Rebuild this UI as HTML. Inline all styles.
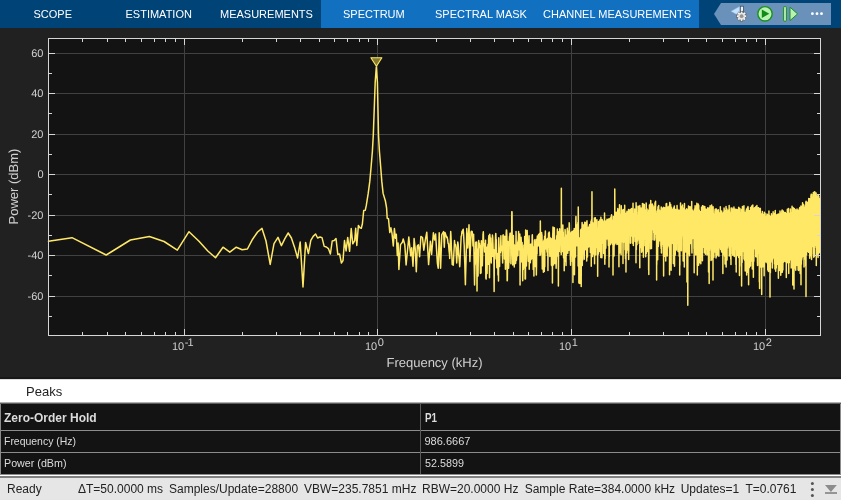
<!DOCTYPE html>
<html><head><meta charset="utf-8">
<style>
html,body{margin:0;padding:0;}
#tb,#plot,#pk,#tbl,#st{will-change:transform;}
body{width:841px;height:500px;overflow:hidden;background:#212121;font-family:"Liberation Sans",sans-serif;position:relative;}
#tb{position:absolute;left:0;top:0;width:841px;height:28px;background:#004377;}
#tb .sel{position:absolute;left:321px;top:0;width:378px;height:28px;background:#1170c0;}
#tb .t{position:absolute;top:8px;font-size:11px;color:#fff;white-space:nowrap;line-height:12px;}
#plot text{text-rendering:geometricPrecision}
#fig{position:absolute;left:0;top:28px;width:841px;height:351px;background:#212121;border-bottom:2px solid #171717;box-sizing:border-box;}
#pk{position:absolute;left:0;top:379px;width:841px;height:24px;background:#fff;border-top:1px solid #dedede;border-bottom:1px solid #b0b0b0;box-sizing:border-box;}
#pk span{position:absolute;left:26px;top:5px;font-size:13px;color:#222;line-height:14px;}
#tbl{position:absolute;left:0;top:403px;width:841px;height:72px;background:#8c8c8c;border-top:1px solid #5c5c5c;box-sizing:border-box;}
#tbl .r{position:absolute;left:1px;width:839px;background:#131313;}
#tbl .r span{position:absolute;top:4px;font-size:11px;line-height:13px;color:#dcdcdc;white-space:nowrap;transform-origin:0 50%;}
#tbl .h span{font-weight:bold;}
#tbl .c1{left:3px;} #tbl .c2{left:423.5px;}
#tbl .v{position:absolute;left:420px;top:0px;width:1px;height:70px;background:#5a5a5a;}
#st{position:absolute;left:0;top:475px;width:841px;height:25px;background:#e6e6e6;border-top:1px solid #fff;box-sizing:border-box;}
#st:before{content:'';position:absolute;left:0;top:0;width:841px;height:2px;background:#808080;}
#st span{position:absolute;top:6px;font-size:12px;color:#222;white-space:nowrap;line-height:14px;}
</style></head><body>
<div id="tb"><div class="sel"></div>
<span class="t" style="left:33.5px">SCOPE</span>
<span class="t" style="left:125.5px">ESTIMATION</span>
<span class="t" style="left:220px">MEASUREMENTS</span>
<span class="t" style="left:343px">SPECTRUM</span>
<span class="t" style="left:435px">SPECTRAL MASK</span>
<span class="t" style="left:543px">CHANNEL MEASUREMENTS</span>
<svg id="qab" style="position:absolute;left:700px;top:0" width="141" height="28" viewBox="700 0 141 28">
<polygon points="714,14 721,3 831,3 831,25 721,25" fill="#6991b9"/>
<!-- gear/arrow icon -->
<polygon points="730.8,11.3 739.8,6.3 739.8,16.3" fill="#c4e2ff" stroke="#7ea2c8" stroke-width="0.5"/>
<rect x="740.3" y="6.2" width="3.2" height="7" fill="#e8f2ff" stroke="#2c3e55" stroke-width="0.7"/>
<g transform="translate(741.6,16.2)">
<g fill="#f4f4f4" stroke="#444" stroke-width="0.5">
<rect x="-1.2" y="-5" width="2.4" height="10"/>
<rect x="-1.2" y="-5" width="2.4" height="10" transform="rotate(45)"/>
<rect x="-1.2" y="-5" width="2.4" height="10" transform="rotate(90)"/>
<rect x="-1.2" y="-5" width="2.4" height="10" transform="rotate(135)"/>
</g>
<circle r="3.5" fill="#e6e6e6"/>
<circle r="1.9" fill="#959595"/>
</g>
<!-- play -->
<circle cx="765" cy="13.8" r="7.2" fill="#b9f2b3" stroke="#18921f" stroke-width="1.4"/>
<polygon points="761.8,9.6 761.8,18 769.3,13.8" fill="#128a16"/>
<!-- step -->
<rect x="783.6" y="6.7" width="2.8" height="14.4" rx="0.6" fill="#b9f2b3" stroke="#18921f" stroke-width="1"/>
<polygon points="790,7.2 790,20.6 797.6,13.9" fill="#b9f2b3" stroke="#18921f" stroke-width="1" stroke-linejoin="round"/>
<!-- dots -->
<circle cx="812.4" cy="13.7" r="1.4" fill="#fff"/><circle cx="817" cy="13.7" r="1.4" fill="#fff"/><circle cx="821.5" cy="13.7" r="1.4" fill="#fff"/>
</svg>
</div>
<div id="fig"></div>
<svg id="plot" style="position:absolute;left:0;top:28px" width="841" height="350" viewBox="0 28 841 350" font-family="Liberation Sans, sans-serif">
<defs><clipPath id="cp"><rect x="48.5" y="38.5" width="772.0" height="297.0"/></clipPath></defs>
<rect x="48.5" y="38.5" width="772.0" height="297.0" fill="#131313"/>
<path d="M48.5 53.5H820.5M48.5 93.5H820.5M48.5 134.5H820.5M48.5 174.5H820.5M48.5 215.5H820.5M48.5 255.5H820.5M48.5 296.5H820.5M184.5 38.5V335.5M377.5 38.5V335.5M571.5 38.5V335.5M765.5 38.5V335.5" stroke="#414141" stroke-width="1" fill="none" shape-rendering="crispEdges"/>
<path d="M48.50,241.3 72.00,237.7 106.20,255.0 130.40,240.0 149.40,236.5 164.10,241.5 177.30,250.2 189.00,231.7 199.00,241.2 207.80,251.0 215.50,257.7 223.00,247.2 229.80,252.2 236.30,247.2 242.20,249.7 247.40,249.0 252.60,239.2 257.60,232.0 262.00,228.4 266.00,241.0 270.20,264.4 274.00,243.6 278.00,237.4 281.40,245.6 285.00,238.4 288.20,233.0 291.40,238.0 294.60,247.4 297.60,258.0 300.20,242.0 303.00,287.0 305.60,242.4 308.40,253.6 310.80,240.4 313.20,236.4 315.60,234.0 317.60,238.0 320.00,237.0 322.00,237.6 324.20,246.4 326.40,247.0 328.40,248.6 330.40,254.0 332.20,241.0 334.20,240.6 336.00,238.6 337.80,254.4 339.60,254.0 341.40,263.0 343.00,260.6 344.50,240.6 346.10,251.0 347.70,237.4 349.60,251.3 351.20,228.6 352.80,243.8 354.70,240.6 355.70,228.3 356.80,245.4 358.40,225.4 360.00,227.8 361.30,228.3 362.40,223.8 363.70,210.5 365.30,210.2 366.30,205.4 368.20,193.4 369.80,181.4 371.10,167.0 372.40,151.0 373.30,135.0 374.20,110.0 375.20,82.0 376.30,67.0 377.40,82.0 378.00,110.0 378.50,135.0 379.40,151.0 380.70,167.0 381.80,181.4 383.10,193.4 385.40,201.0 386.60,208.0 387.20,218.2 388.50,218.7 389.80,232.6 390.90,227.8 392.00,233.4 393.30,245.9 394.40,228.6 395.40,238.2 396.30,234.2 397.30,255.5 398.10,243.0 398.90,269.4 400.50,244.6 402.40,242.2 403.20,239.0 404.80,244.6 406.10,265.0 408.80,237.0 410.70,255.8 411.70,247.8 413.00,266.2 414.10,238.5 415.20,248.6 416.30,271.8 417.30,246.0 418.40,244.8 419.60,256.8 420.90,236.4 422.50,237.5 423.80,250.2 425.30,240.0 426.80,232.2 428.60,264.6 430.40,241.2 431.60,254.4 433.40,232.8 434.60,240.0 435.60,234.0 437.40,263.4 438.20,268.2 439.20,232.8 440.60,268.2 441.80,234.6 443.60,231.6 444.30,247.2 445.00,232.4 446.70,237.5 447.12,237.1 447.61,239.4 448.10,243.5 448.50,243.5 449.07,250.9 449.55,254.8 449.70,258.5 450.02,249.5 450.50,236.9 450.70,231.5 450.97,235.9 451.44,248.7 451.90,256.2 452.20,264.5 452.36,264.4 452.83,264.9 453.30,265.2 453.74,255.8 454.19,247.2 454.50,240.5 454.64,242.3 455.09,245.5 455.54,244.7 456.00,248.0 456.42,257.8 456.70,263.0 456.86,260.7 457.30,250.6 457.80,242.0 458.17,244.6 458.60,254.5 459.03,257.1 459.45,262.7 459.70,266.7 459.88,264.8 460.30,254.8 460.72,245.8 461.20,236.0 461.55,236.0 461.96,231.3 462.37,232.9 462.78,230.1 463.20,229.2 463.60,233.7 464.00,242.5 464.20,245.0 464.40,253.6 464.80,263.6 465.20,278.6 465.40,284.7 465.59,276.0 465.99,262.2 466.38,246.3 466.80,228.5 467.16,235.0 467.55,246.1 467.70,248.0 467.93,244.6 468.31,237.8 468.70,231.6 469.00,224.7 469.45,242.9 469.90,261.5 470.20,254.5 470.58,245.1 471.00,232.2 471.32,231.3 471.69,232.4 472.05,231.4 472.20,231.5 472.42,235.4 472.78,240.5 473.00,246.0 473.14,244.1 473.60,234.2 474.57,285.0 474.93,265.5 475.28,263.8 475.63,242.2 475.98,256.5 476.33,250.8 476.68,242.1 477.02,291.0 477.37,249.1 477.71,259.0 478.05,276.0 478.39,249.4 478.73,240.6 479.07,247.5 479.40,243.2 479.74,245.0 480.07,246.1 480.40,273.4 480.73,252.7 481.06,273.0 481.39,240.7 481.72,245.4 482.04,254.3 482.36,265.7 482.69,251.3 483.01,234.9 483.33,231.8 483.65,244.4 483.97,243.4 484.28,244.9 484.60,251.9 484.91,247.0 485.23,252.1 485.54,240.3 485.85,278.0 486.16,279.0 486.47,247.6 486.78,253.2 487.08,273.4 487.39,247.0 487.69,247.9 488.00,244.2 488.30,264.3 488.60,239.0 488.90,235.5 489.20,244.8 489.49,277.7 489.79,234.2 490.09,237.6 490.38,247.6 490.67,238.1 490.97,258.3 491.26,263.0 491.55,243.8 491.84,248.5 492.13,256.4 492.42,235.0 492.70,237.9 492.99,245.3 493.27,256.5 493.56,251.7 493.84,249.8 494.12,291.6 494.40,253.1 494.68,250.8 494.96,259.0 495.24,246.9 495.52,236.7 495.79,233.4 496.07,240.1 496.34,239.6 496.61,254.6 496.89,267.8 497.16,253.3 497.43,261.9 497.70,254.4 497.97,274.9 498.24,255.4 498.50,281.0 498.77,237.7 499.04,246.1 499.30,258.6 499.57,266.5 499.83,248.6 500.09,248.0 500.35,252.6 500.61,250.7 500.87,235.7 501.13,247.5 501.39,247.8 501.65,250.6 501.91,248.6 502.16,246.1 502.42,254.9 502.67,263.0 502.93,235.2 503.18,234.9 503.43,242.8 503.68,243.2 503.93,244.9 504.18,241.6 504.43,259.1 504.68,236.3 504.93,239.4 505.18,248.8 505.42,269.2 505.67,252.5 505.91,245.0 506.16,233.8 506.40,229.9 506.64,230.5 506.88,235.7 507.13,280.8 507.37,280.0 507.61,248.8 507.85,241.6 508.08,245.9 508.32,248.4 508.56,268.3 508.80,261.2 509.03,262.6 509.27,242.7 509.50,236.6 509.74,237.4 509.97,233.6 510.20,233.1 510.43,235.1 510.67,233.5 510.90,263.8 511.13,242.0 511.36,240.0 511.58,245.6 511.81,211.8 512.04,211.7 512.27,252.1 512.49,253.9 512.72,265.0 512.94,239.0 513.17,239.7 513.39,235.6 513.62,251.1 513.84,246.3 514.06,251.3 514.28,267.1 514.50,245.0 514.73,262.0 514.94,248.1 515.16,245.5 515.38,247.8 515.60,263.4 515.82,260.5 516.04,231.4 516.25,249.4 516.47,260.2 516.68,254.4 516.90,244.5 517.11,245.4 517.33,256.1 517.54,249.6 517.75,242.0 517.96,255.5 518.18,240.6 518.39,239.6 518.60,231.4 518.81,246.5 519.02,240.8 519.23,241.6 519.43,250.1 519.64,241.8 519.85,234.1 520.06,285.0 520.26,256.6 520.47,248.9 520.67,238.6 520.88,240.5 521.08,237.3 521.29,241.6 521.49,248.7 521.69,261.9 521.90,256.7 522.10,242.5 522.30,247.9 522.50,254.8 522.70,280.7 522.90,265.9 523.10,268.0 523.30,269.5 523.50,267.6 523.70,260.1 523.89,244.9 524.09,250.5 524.29,263.0 524.48,254.6 524.68,236.5 524.88,242.9 525.07,279.0 525.27,252.6 525.46,279.0 525.65,230.0 525.85,231.1 526.04,242.1 526.23,264.0 526.42,266.0 526.61,255.9 526.81,250.8 527.00,252.7 527.19,230.6 527.38,238.8 527.56,247.4 527.75,252.8 527.94,244.5 528.13,250.4 528.32,261.2 528.50,248.4 528.69,243.7 528.88,241.4 529.06,235.7 529.25,269.2 529.43,252.3 529.62,244.6 529.80,245.2 529.99,247.3 530.17,247.3 530.35,262.8 530.54,249.1 530.72,246.7 530.90,244.0 531.08,259.6 531.26,258.1 531.44,249.2 531.62,249.2 531.80,258.3 531.98,253.2 532.16,236.1 532.34,234.8 532.52,244.4 532.70,258.8 532.87,252.4 533.05,246.8 533.23,269.5 533.41,251.5 533.58,252.3 533.76,248.4 533.93,276.0 534.11,247.0 534.28,260.4 534.46,240.2 534.63,246.6 534.80,256.1 534.98,239.4 535.15,266.6 535.32,245.1 535.50,248.6 535.67,249.9 535.84,249.8 536.01,241.0 536.18,257.3 536.35,275.0 536.52,266.2 536.69,239.2 536.86,244.9 537.03,253.9 537.20,238.4 537.37,236.0 537.53,246.0 537.70,244.5 537.87,238.5 538.04,238.2 538.20,246.1 538.37,239.6 538.54,234.6 538.70,243.3 538.87,240.4 539.03,235.6 539.20,238.6 539.36,245.4 539.53,233.6 539.69,244.0 539.85,250.5 540.02,255.5 540.18,252.7 540.34,221.0 540.50,254.8 540.67,250.5 540.83,251.2 540.99,246.5 541.15,241.6 541.31,250.2 541.47,243.6 541.63,232.5 541.79,239.8 541.95,234.8 542.11,242.4 542.27,268.9 542.43,259.4 542.58,253.8 542.74,268.5 542.90,265.1 543.06,269.0 543.21,241.7 543.37,272.2 543.53,259.0 543.68,270.0 543.84,241.0 544.00,240.1 544.15,265.5 544.31,271.4 544.46,249.4 544.61,236.2 544.77,266.8 544.92,240.6 545.08,244.2 545.23,235.1 545.38,230.9 545.54,248.9 545.69,243.1 545.84,244.9 545.99,245.2 546.14,241.0 546.30,239.2 546.45,248.1 546.60,241.9 546.75,242.4 546.90,250.7 547.05,252.1 547.20,244.6 547.35,248.1 547.50,255.8 547.65,238.6 547.79,242.2 547.94,270.4 548.09,248.6 548.24,244.9 548.39,240.1 548.53,233.1 548.68,235.6 548.83,236.2 548.98,234.4 549.12,232.2 549.27,232.1 549.41,235.3 549.56,239.2 549.70,251.7 549.85,256.6 549.99,241.4 550.14,249.0 550.28,248.1 550.43,239.4 550.57,238.0 550.72,245.7 550.86,254.3 551.00,249.4 551.15,238.6 551.29,247.1 551.43,265.3 551.57,264.2 551.71,265.6 551.86,265.5 552.00,258.1 552.14,242.7 552.28,242.5 552.42,283.0 552.56,252.6 552.70,234.9 552.84,232.5 552.98,226.9 553.12,227.4 553.26,242.5 553.40,264.5 553.54,264.9 553.68,239.0 553.82,252.7 553.95,242.7 554.09,259.9 554.23,231.1 554.37,227.8 554.50,240.9 554.64,253.2 554.78,251.1 554.91,263.4 555.05,246.8 555.19,246.3 555.32,240.2 555.46,241.6 555.59,247.2 555.73,247.8 555.87,243.7 556.00,248.7 556.13,268.3 556.27,260.7 556.40,256.9 556.54,245.6 556.67,235.7 556.81,238.9 556.94,254.4 557.07,256.1 557.20,235.2 557.34,229.0 557.47,240.9 557.60,254.5 557.73,234.9 557.87,235.8 558.00,242.7 558.13,254.4 558.26,249.1 558.39,286.0 558.52,249.3 558.65,247.3 558.78,231.7 558.91,232.8 559.04,231.7 559.17,238.4 559.30,251.5 559.43,242.3 559.56,232.7 559.69,228.8 559.82,234.1 559.95,235.5 560.08,235.2 560.21,241.5 560.33,238.9 560.46,239.8 560.59,239.0 560.72,232.1 560.85,239.0 560.97,252.8 561.10,240.3 561.23,254.4 561.35,188.3 561.48,252.8 561.61,239.7 561.73,237.9 561.86,248.4 561.98,233.9 562.11,229.4 562.23,251.2 562.36,239.9 562.48,236.9 562.61,243.8 562.73,227.2 562.86,225.1 562.98,236.4 563.11,237.7 563.23,232.1 563.35,238.5 563.48,248.7 563.60,258.1 563.72,242.3 563.85,239.4 563.97,252.2 564.09,251.6 564.21,270.7 564.33,248.0 564.46,262.0 564.58,244.1 564.70,237.3 564.82,242.5 564.94,238.8 565.06,229.5 565.19,230.8 565.31,259.5 565.43,242.5 565.55,251.9 565.67,235.0 565.79,240.4 565.91,258.5 566.03,265.4 566.15,242.6 566.27,240.2 566.38,255.4 566.50,251.4 566.62,239.3 566.74,243.5 566.86,240.8 566.98,251.0 567.10,233.4 567.21,230.2 567.33,228.2 567.45,239.0 567.57,240.8 567.69,238.2 567.80,253.2 567.92,242.0 568.04,231.0 568.15,243.3 568.27,243.8 568.39,241.0 568.50,240.4 568.73,247.8 568.85,244.9 568.97,250.3 569.08,232.4 569.20,222.8 569.31,223.4 569.43,229.0 569.54,233.9 569.66,233.5 569.77,239.9 570.00,245.3 570.11,241.7 570.23,239.0 570.34,259.7 570.45,252.7 570.57,265.3 570.68,238.0 570.79,256.3 570.91,250.1 571.02,242.9 571.13,232.3 571.25,239.3 571.36,249.1 571.47,241.2 571.58,236.3 571.69,233.6 571.81,243.2 571.92,252.1 572.03,236.8 572.14,231.4 572.25,261.6 572.47,235.3 572.58,239.4 572.69,256.2 572.81,246.9 572.92,282.4 573.03,266.2 573.25,239.0 573.36,230.8 573.46,232.2 573.57,235.0 573.68,237.8 573.79,238.4 573.90,242.0 574.01,252.8 574.23,228.6 574.34,239.0 574.44,274.8 574.55,261.0 574.66,238.1 574.77,244.0 574.88,250.2 574.98,248.6 575.09,255.4 575.20,243.9 575.31,239.0 575.41,249.5 575.52,257.1 575.73,227.7 575.84,219.8 575.95,216.5 576.05,224.9 576.16,230.0 576.27,226.1 576.48,231.3 576.58,244.8 576.69,241.7 576.79,245.7 576.90,242.6 577.00,225.0 577.11,225.0 577.21,229.4 577.32,230.0 577.42,238.3 577.53,230.3 577.74,237.8 577.84,222.9 577.94,222.4 578.05,233.3 578.15,266.0 578.25,207.0 578.46,241.5 578.56,246.8 578.67,240.6 578.77,247.2 578.87,283.0 578.98,239.8 579.08,237.8 579.18,241.8 579.28,239.4 579.38,253.7 579.49,248.3 579.59,238.6 579.69,237.9 579.79,283.5 579.99,241.2 580.10,251.4 580.20,256.8 580.30,248.8 580.50,237.7 580.60,230.0 580.70,235.9 580.80,242.5 580.90,232.6 581.00,231.0 581.20,286.5 581.30,235.9 581.40,228.8 581.50,254.6 581.60,243.3 581.70,244.8 581.80,238.8 581.90,239.9 582.00,228.0 582.10,222.5 582.20,239.2 582.29,265.5 582.49,242.4 582.59,260.5 582.69,240.2 582.79,247.7 582.98,231.9 583.08,224.6 583.18,240.4 583.27,230.9 583.37,239.0 583.47,234.4 583.57,232.0 583.66,232.0 583.76,231.8 583.95,225.7 584.05,249.4 584.24,259.3 584.34,235.1 584.44,233.1 584.53,249.5 584.72,222.2 584.82,222.4 584.91,225.3 585.01,229.2 585.20,237.3 585.30,228.2 585.39,222.4 585.49,225.1 585.58,237.4 585.68,249.7 585.77,241.0 585.87,237.0 585.96,239.4 586.05,246.1 586.15,222.4 586.24,228.3 586.34,243.5 586.43,234.5 586.52,240.6 586.62,238.2 586.71,261.1 586.81,248.5 586.99,220.8 587.08,229.6 587.18,232.1 587.27,249.3 587.36,239.7 587.46,256.9 587.55,243.9 587.64,244.5 587.73,242.1 587.83,240.0 587.92,229.5 588.01,229.4 588.20,237.6 588.29,227.6 588.47,236.6 588.56,239.7 588.65,247.1 588.75,233.4 588.84,228.1 588.93,229.6 589.02,246.8 589.20,225.9 589.29,230.6 589.47,239.0 589.56,232.5 589.65,224.6 589.74,240.9 589.83,236.8 589.92,242.3 590.01,226.6 590.19,241.8 590.28,234.8 590.37,252.6 590.46,241.6 590.55,228.3 590.73,243.2 590.82,224.1 591.00,221.2 591.09,226.6 591.18,235.7 591.26,266.3 591.44,232.3 591.53,219.7 591.71,233.3 591.79,242.1 591.97,191.7 592.06,220.7 592.23,229.3 592.32,254.8 592.41,231.1 592.50,256.6 592.58,232.7 592.67,246.5 592.76,238.5 592.84,250.7 592.93,232.3 593.02,223.1 593.19,226.5 593.28,236.0 593.45,253.9 593.54,229.2 593.62,228.5 593.71,250.5 593.80,232.8 593.88,239.7 593.97,234.3 594.05,247.0 594.14,242.3 594.22,247.8 594.31,223.8 594.40,218.0 594.48,227.3 594.57,263.8 594.74,219.6 594.82,229.6 594.91,244.4 594.99,239.9 595.08,233.0 595.25,220.1 595.33,217.8 595.50,236.4 595.58,231.5 595.67,250.4 595.75,240.2 595.83,254.7 595.92,234.2 596.00,225.4 596.17,238.4 596.25,232.8 596.34,220.2 596.42,222.8 596.50,240.9 596.59,232.6 596.67,245.7 596.75,232.0 596.92,219.8 597.00,228.7 597.08,247.5 597.25,229.0 597.33,241.0 597.50,229.4 597.58,234.9 597.66,276.2 597.74,245.0 597.83,230.2 597.91,230.1 597.99,231.8 598.07,234.8 598.15,241.8 598.23,236.4 598.32,228.3 598.48,254.1 598.56,221.6 598.72,239.8 598.80,244.7 598.88,226.2 598.97,227.0 599.05,231.5 599.13,234.9 599.21,234.6 599.29,225.9 599.37,238.3 599.45,224.6 599.53,243.7 599.69,222.5 599.77,222.9 599.85,220.1 599.93,251.5 600.01,240.2 600.09,222.8 600.25,247.7 600.33,231.9 600.49,227.3 600.57,221.7 600.73,224.6 600.81,257.5 600.88,217.3 600.96,224.0 601.04,249.2 601.20,220.9 601.28,228.3 601.36,237.6 601.44,237.0 601.51,247.1 601.75,229.1 601.83,236.8 601.91,257.8 601.98,250.3 602.06,234.8 602.14,219.4 602.22,243.6 602.30,241.1 602.45,223.1 602.53,230.0 602.61,222.2 602.68,236.3 602.76,243.0 602.92,221.0 602.99,223.5 603.07,232.4 603.15,225.6 603.22,229.9 603.30,229.5 603.38,232.1 603.45,222.6 603.53,231.2 603.68,253.5 603.76,237.6 603.84,224.2 603.99,224.8 604.06,246.1 604.14,247.5 604.22,238.7 604.29,224.0 604.37,233.3 604.44,233.0 604.52,213.0 604.60,236.6 604.75,234.6 604.82,264.3 604.97,222.1 605.05,225.9 605.12,258.8 605.20,227.9 605.27,221.9 605.50,245.2 605.57,239.6 605.65,241.7 605.72,235.1 605.80,248.2 605.95,220.9 606.02,232.5 606.24,224.5 606.32,226.8 606.47,236.3 606.54,232.2 606.61,223.3 606.69,229.2 606.76,238.7 606.84,239.0 606.98,219.2 607.06,225.5 607.13,231.9 607.20,225.8 607.28,238.0 607.50,229.3 607.57,235.3 607.71,221.3 607.79,219.7 607.93,238.0 608.01,233.9 608.08,230.1 608.22,240.9 608.30,240.5 608.37,245.4 608.44,223.8 608.51,219.0 608.66,240.0 608.73,229.5 608.80,225.0 608.87,237.5 608.94,231.4 609.02,266.9 609.23,231.6 609.30,256.8 609.37,232.0 609.45,232.1 609.52,239.3 609.59,233.5 609.66,243.8 609.73,239.4 609.80,222.8 609.87,218.4 609.94,221.4 610.01,227.2 610.23,244.8 610.30,242.3 610.44,220.0 610.51,219.7 610.72,232.3 610.79,224.3 610.86,216.9 610.93,231.6 611.00,239.6 611.14,240.8 611.21,229.0 611.28,242.6 611.49,221.2 611.56,214.7 611.70,224.5 611.77,219.8 611.91,235.2 611.98,230.6 612.05,242.4 612.12,244.0 612.19,233.5 612.25,239.5 612.32,221.6 612.46,227.8 612.53,229.9 612.60,244.4 612.74,232.4 612.80,231.9 612.94,242.4 613.01,274.9 613.22,219.7 613.28,232.4 613.35,216.6 613.49,241.1 613.56,245.5 613.69,220.5 613.76,226.9 613.90,236.8 613.96,234.2 614.03,256.1 614.23,219.7 614.30,223.1 614.37,224.0 614.44,223.6 614.50,217.5 614.64,244.7 614.70,242.3 614.77,189.0 614.97,243.7 615.04,236.9 615.11,215.8 615.24,217.0 615.31,220.0 615.44,223.2 615.51,216.7 615.57,216.4 615.64,242.7 615.70,219.4 615.77,212.6 615.90,228.6 615.97,226.3 616.04,226.3 616.10,232.7 616.23,228.8 616.30,215.1 616.43,240.7 616.50,220.2 616.56,212.3 616.69,235.4 616.76,224.3 616.89,222.5 616.95,244.5 617.02,222.3 617.08,213.5 617.15,225.0 617.22,218.9 617.28,215.3 617.48,238.7 617.54,222.8 617.73,215.0 617.80,208.6 617.99,227.1 618.06,232.6 618.12,235.5 618.19,219.4 618.25,234.7 618.31,220.2 618.44,244.4 618.51,230.0 618.64,210.6 618.70,213.8 618.76,224.8 618.95,266.7 619.02,234.8 619.21,214.9 619.27,221.9 619.34,221.1 619.46,231.8 619.53,204.7 619.72,252.9 619.78,221.6 619.84,227.7 619.97,214.5 620.03,237.4 620.09,217.9 620.22,243.7 620.28,249.0 620.41,252.1 620.47,222.9 620.53,226.0 620.66,238.3 620.72,226.8 620.78,214.3 620.97,221.7 621.03,233.0 621.10,254.7 621.22,212.3 621.28,205.8 621.41,220.4 621.47,217.7 621.53,220.4 621.65,215.6 621.71,241.7 621.78,238.0 621.96,220.7 622.02,239.8 622.21,221.0 622.27,229.1 622.33,222.6 622.39,229.9 622.45,227.5 622.51,226.2 622.57,212.8 622.70,226.0 622.76,231.6 622.82,210.0 622.94,233.6 623.00,263.4 623.24,209.6 623.30,214.2 623.36,234.6 623.49,213.7 623.55,218.8 623.61,242.3 623.73,215.1 623.79,229.5 623.91,229.9 623.97,222.2 624.03,221.9 624.15,230.2 624.21,221.8 624.27,221.3 624.33,236.5 624.45,228.2 624.51,232.0 624.69,205.3 624.74,211.9 624.80,225.1 624.86,221.4 624.98,232.4 625.04,249.8 625.22,217.8 625.28,221.4 625.46,251.0 625.52,258.8 625.63,224.8 625.69,226.9 625.75,222.3 625.99,272.0 626.04,222.4 626.10,213.3 626.22,244.7 626.28,231.8 626.34,222.4 626.45,245.9 626.51,228.1 626.57,220.8 626.69,253.1 626.74,225.5 626.80,225.9 626.86,234.4 626.98,211.2 627.03,216.3 627.21,244.4 627.27,221.2 627.32,218.4 627.38,248.5 627.50,230.9 627.55,224.2 627.67,250.1 627.73,236.9 627.78,227.7 627.84,221.1 627.90,232.4 627.96,223.9 628.01,221.4 628.19,219.1 628.24,242.6 628.30,227.8 628.47,217.4 628.53,209.5 628.64,259.5 628.70,234.5 628.76,251.5 628.93,215.5 628.98,218.2 629.04,220.4 629.15,219.1 629.21,224.5 629.26,232.9 629.38,211.5 629.49,218.6 629.55,220.3 629.66,225.5 629.71,219.4 629.77,218.7 629.94,229.0 629.99,225.6 630.05,229.6 630.16,209.4 630.22,211.8 630.27,220.0 630.39,243.2 630.50,217.8 630.55,223.5 630.61,234.4 630.72,232.6 630.77,243.0 631.00,222.5 631.05,226.1 631.11,236.8 631.16,221.6 631.22,234.9 631.27,215.9 631.33,208.7 631.49,216.6 631.55,228.2 631.66,208.6 631.71,209.9 631.77,223.6 631.82,235.6 631.98,210.9 632.04,212.2 632.09,220.6 632.20,214.9 632.26,216.6 632.31,228.7 632.42,213.4 632.47,215.9 632.53,221.7 632.64,227.3 632.69,215.1 632.75,226.7 632.80,243.4 632.96,213.3 633.02,203.2 633.18,234.3 633.23,220.4 633.28,214.1 633.34,245.4 633.50,235.0 633.55,227.3 633.66,213.9 633.71,219.0 633.77,215.2 633.82,214.0 633.87,233.1 633.98,220.9 634.03,231.5 634.09,220.3 634.25,229.3 634.30,231.5 634.46,217.7 634.51,227.9 634.62,236.0 634.67,208.9 634.72,210.9 634.78,229.5 634.99,210.8 635.04,228.5 635.09,241.4 635.15,225.4 635.20,230.9 635.25,225.8 635.30,220.2 635.41,235.0 635.46,228.7 635.51,225.8 635.57,233.2 635.67,215.4 635.72,227.6 635.78,232.4 635.88,218.9 635.98,262.7 636.04,211.0 636.09,202.7 636.24,216.7 636.30,228.5 636.35,249.7 636.45,220.0 636.50,221.2 636.55,222.1 636.66,206.0 636.71,220.6 636.76,217.9 636.81,212.0 636.97,229.4 637.02,244.7 637.12,215.5 637.22,230.6 637.28,222.6 637.33,218.4 637.43,229.5 637.48,223.2 637.53,240.9 637.63,220.1 637.74,236.5 637.79,218.1 637.99,234.9 638.04,217.5 638.24,239.1 638.30,217.5 638.35,227.6 638.40,206.2 638.50,221.9 638.55,221.3 638.60,227.0 638.70,222.1 638.75,218.6 638.80,217.5 638.85,221.5 638.95,219.6 639.00,223.3 639.10,219.6 639.20,243.5 639.25,227.0 639.30,225.4 639.35,235.8 639.45,234.1 639.50,229.3 639.55,243.7 639.70,209.6 639.75,212.0 639.80,267.7 639.85,205.4 639.95,216.1 640.00,216.0 640.10,247.9 640.25,227.3 640.30,231.1 640.35,237.9 640.50,211.5 640.54,214.5 640.69,227.5 640.74,213.1 640.79,215.9 640.89,240.9 640.99,236.9 641.04,207.9 641.23,225.8 641.28,214.6 641.33,228.3 641.48,209.7 641.53,213.2 641.62,252.2 641.72,227.4 641.77,237.5 641.82,247.8 641.92,225.3 641.96,233.9 642.01,221.0 642.06,214.0 642.21,223.9 642.25,231.9 642.45,203.5 642.50,207.8 642.54,219.5 642.69,207.9 642.74,210.2 642.78,219.8 642.98,251.2 643.02,237.4 643.07,250.0 643.17,210.4 643.22,211.7 643.26,226.7 643.41,257.2 643.45,237.1 643.50,221.0 643.60,231.2 643.69,204.0 643.74,214.8 643.79,224.8 643.93,214.2 643.98,234.0 644.02,221.2 644.12,245.7 644.21,222.6 644.26,211.0 644.31,204.6 644.45,221.6 644.50,209.8 644.54,210.8 644.59,209.5 644.68,221.9 644.73,213.0 644.78,221.8 644.82,223.6 644.97,215.2 645.01,218.1 645.20,231.2 645.25,228.9 645.29,214.0 645.43,211.3 645.48,240.0 645.53,229.5 645.62,210.1 645.71,256.7 645.76,228.6 645.94,212.5 645.99,212.8 646.03,219.7 646.08,233.2 646.17,203.0 646.22,203.9 646.27,253.5 646.31,209.4 646.50,217.6 646.54,218.4 646.63,219.9 646.73,210.3 646.77,208.8 646.82,236.5 647.00,217.2 647.05,214.1 647.09,208.9 647.23,230.8 647.27,219.8 647.41,251.4 647.46,215.1 647.50,212.8 647.64,242.5 647.73,219.1 647.77,224.3 647.95,218.0 648.00,244.8 648.04,215.2 648.18,230.3 648.22,223.3 648.27,234.7 648.31,211.9 648.49,222.6 648.54,228.2 648.63,269.8 648.72,210.1 648.76,221.2 648.81,274.5 648.99,217.3 649.03,214.8 649.16,233.3 649.21,224.9 649.25,217.8 649.30,218.4 649.43,205.1 649.48,212.0 649.52,224.5 649.61,226.3 649.70,213.9 649.74,226.2 649.79,242.0 649.96,210.4 650.01,217.6 650.05,220.9 650.14,204.2 650.23,217.1 650.27,212.8 650.31,211.4 650.45,248.8 650.49,239.8 650.53,240.9 650.71,206.8 650.75,200.4 650.84,237.9 650.97,232.2 651.01,245.3 651.23,213.0 651.28,209.4 651.32,208.6 651.49,248.5 651.54,220.3 651.58,229.0 651.71,223.4 651.75,215.3 651.88,236.6 651.97,212.9 652.01,239.7 652.10,210.7 652.23,214.6 652.27,203.9 652.44,218.7 652.48,208.9 652.53,210.0 652.74,227.1 652.78,221.3 652.82,226.4 652.91,205.3 652.99,217.5 653.04,224.6 653.12,229.6 653.25,212.8 653.29,215.4 653.42,212.3 653.46,218.9 653.50,217.5 653.67,209.3 653.71,209.7 653.76,232.9 653.88,207.2 653.97,218.9 654.01,240.0 654.18,214.7 654.22,237.9 654.26,219.2 654.43,234.7 654.47,218.9 654.51,229.3 654.55,206.6 654.68,240.0 654.72,223.9 654.76,237.4 654.89,238.9 654.97,202.7 655.01,204.0 655.18,234.5 655.22,221.2 655.26,211.9 655.30,209.0 655.43,228.6 655.47,223.3 655.51,210.8 655.55,201.2 655.72,224.1 655.76,217.6 655.88,211.0 655.96,224.4 656.00,226.3 656.17,211.0 656.21,232.7 656.25,221.6 656.29,217.9 656.33,214.2 656.45,224.8 656.49,220.9 656.54,224.1 656.62,280.0 656.66,213.6 656.74,232.1 656.78,264.6 656.90,214.1 656.98,226.6 657.02,222.7 657.06,215.1 657.19,224.8 657.23,222.5 657.27,222.9 657.39,232.5 657.43,220.3 657.47,221.7 657.51,215.9 657.55,214.3 657.67,259.8 657.71,221.4 657.75,209.5 657.87,233.6 657.95,206.7 657.99,208.5 658.03,221.0 658.11,212.8 658.23,223.6 658.27,218.9 658.31,246.4 658.39,212.9 658.47,220.0 658.51,217.1 658.59,244.2 658.67,205.5 658.75,213.1 658.79,212.2 658.91,209.3 658.99,240.5 659.03,232.7 659.22,210.0 659.26,211.7 659.42,233.7 659.46,232.3 659.50,213.6 659.66,229.3 659.74,217.0 659.78,215.0 659.85,240.8 659.97,233.4 660.01,224.4 660.09,213.1 660.21,238.7 660.25,227.6 660.28,219.4 660.36,210.9 660.48,212.4 660.52,211.7 660.64,231.1 660.71,219.9 660.75,224.2 660.79,214.7 660.87,245.9 660.98,242.3 661.02,230.4 661.06,248.4 661.14,208.6 661.22,218.8 661.25,206.9 661.45,252.9 661.49,244.1 661.52,237.7 661.60,218.2 661.68,246.6 661.72,223.6 661.75,217.7 661.79,212.0 661.87,225.3 661.98,224.5 662.02,234.4 662.06,237.5 662.17,208.1 662.21,234.7 662.25,217.7 662.29,216.9 662.40,240.3 662.48,221.2 662.52,222.6 662.59,211.3 662.75,233.0 662.78,225.7 662.86,233.8 662.97,215.2 663.01,219.2 663.09,210.3 663.12,244.6 663.24,226.4 663.27,226.1 663.42,256.0 663.50,218.3 663.54,232.2 663.61,276.0 663.69,207.3 663.72,210.0 663.76,236.0 663.99,210.2 664.02,221.8 664.14,231.9 664.25,213.2 664.28,222.5 664.36,256.6 664.43,213.1 664.47,225.9 664.51,216.5 664.66,241.7 664.69,211.7 664.73,214.9 664.77,232.6 664.84,207.7 664.99,217.4 665.03,219.8 665.06,217.0 665.21,245.3 665.25,229.6 665.28,235.3 665.47,211.6 665.50,212.9 665.54,209.7 665.61,232.6 665.72,231.4 665.76,260.9 665.83,216.8 665.98,239.4 666.01,234.5 666.12,203.7 666.23,254.3 666.27,248.8 666.38,213.5 666.49,226.3 666.52,225.0 666.67,203.5 666.74,223.1 666.78,216.3 666.88,213.7 666.96,245.1 666.99,244.8 667.03,223.2 667.07,216.5 667.21,256.0 667.24,236.0 667.28,216.8 667.35,211.2 667.42,243.9 667.50,229.0 667.53,212.0 667.57,208.9 667.60,236.8 667.75,220.2 667.78,215.2 667.92,227.8 668.00,207.0 668.03,212.0 668.21,239.3 668.24,228.6 668.28,245.7 668.42,211.5 668.49,231.9 668.53,233.3 668.70,238.8 668.74,216.0 668.78,213.0 668.88,234.5 668.99,215.7 669.02,226.2 669.06,231.1 669.13,206.0 669.23,218.1 669.27,248.2 669.34,211.0 669.48,215.2 669.51,237.5 669.55,274.8 669.72,220.1 669.76,206.0 669.79,202.5 669.97,261.5 670.00,256.3 670.07,212.8 670.24,229.5 670.28,243.1 670.31,213.1 670.49,223.2 670.52,234.3 670.69,204.5 670.73,212.1 670.76,223.1 670.93,206.5 670.97,207.4 671.00,217.6 671.11,270.3 671.24,218.7 671.28,207.6 671.48,217.5 671.52,226.4 671.55,234.2 671.69,211.5 671.72,225.3 671.75,221.9 671.82,223.4 671.86,209.5 671.99,220.9 672.03,216.9 672.13,237.4 672.20,211.2 672.23,214.2 672.26,217.1 672.37,223.9 672.43,212.4 672.47,214.3 672.50,234.6 672.63,243.4 672.70,219.1 672.74,221.8 672.77,219.6 672.80,218.3 672.97,230.5 673.00,240.8 673.24,208.0 673.27,218.9 673.34,263.6 673.47,235.5 673.51,212.4 673.54,212.3 673.61,242.2 673.74,223.8 673.77,222.5 673.87,237.0 673.97,209.9 674.00,211.9 674.04,242.1 674.24,229.4 674.27,223.1 674.30,206.1 674.47,266.3 674.50,234.8 674.53,265.9 674.70,208.7 674.73,218.8 674.76,225.6 674.83,221.5 674.99,242.8 675.03,219.2 675.06,211.0 675.22,255.2 675.25,217.4 675.29,212.4 675.42,234.9 675.48,230.2 675.52,246.6 675.74,213.9 675.78,209.8 675.87,225.8 675.97,222.3 676.00,217.5 676.03,212.9 676.10,243.3 676.23,227.4 676.26,213.0 676.49,250.0 676.52,217.1 676.55,214.6 676.74,232.3 676.78,219.0 676.87,230.4 676.97,208.4 677.00,217.2 677.03,222.4 677.06,205.4 677.13,226.0 677.22,215.7 677.26,230.0 677.35,222.1 677.48,243.5 677.51,231.9 677.57,239.5 677.73,209.2 677.76,215.7 677.80,230.0 677.86,209.5 677.99,225.9 678.02,235.9 678.05,251.4 678.11,211.2 678.24,218.9 678.27,215.9 678.40,243.9 678.49,231.8 678.52,227.9 678.62,241.2 678.68,214.3 678.74,218.6 678.77,221.1 678.87,215.0 678.96,229.9 678.99,216.1 679.02,210.7 679.21,256.3 679.24,244.3 679.27,250.4 679.43,210.3 679.49,216.7 679.52,236.2 679.64,219.5 679.71,275.1 679.74,235.8 679.77,226.0 679.80,219.1 679.89,265.2 679.98,232.7 680.02,242.2 680.20,210.6 680.23,212.5 680.26,217.5 680.38,212.7 680.42,236.9 680.48,216.1 680.51,215.0 680.54,202.9 680.69,231.8 680.72,210.9 680.75,218.3 680.81,207.0 680.94,229.6 681.00,228.8 681.03,231.4 681.12,232.1 681.18,208.1 681.24,216.8 681.27,222.1 681.30,217.8 681.42,250.7 681.48,220.5 681.51,237.9 681.70,210.9 681.73,216.8 681.76,220.7 681.85,206.2 681.94,227.9 682.00,221.0 682.03,220.2 682.12,211.4 682.15,233.9 682.24,230.8 682.27,229.4 682.33,212.9 682.39,229.9 682.48,215.0 682.51,224.2 682.54,204.9 682.75,235.1 682.78,214.0 682.81,212.2 682.90,225.0 682.99,216.1 683.02,210.1 683.16,261.1 683.22,223.2 683.25,208.1 683.46,238.6 683.49,220.4 683.52,229.4 683.61,216.2 683.73,238.4 683.76,220.1 683.79,214.2 683.85,248.2 683.99,217.4 684.02,214.7 684.08,248.5 684.23,210.9 684.26,209.0 684.32,267.0 684.46,203.6 684.49,219.2 684.52,241.3 684.70,214.7 684.72,215.1 684.75,235.0 684.90,217.4 684.96,252.2 684.99,238.8 685.02,224.5 685.16,210.0 685.25,240.3 685.28,244.9 685.34,211.5 685.48,228.3 685.51,237.5 685.54,212.1 685.74,239.8 685.77,239.7 685.88,212.7 685.97,242.4 686.00,229.5 686.03,221.2 686.09,209.8 686.17,233.6 686.23,212.4 686.26,218.7 686.29,252.0 686.43,214.3 686.49,232.8 686.51,228.2 686.71,208.8 686.74,209.9 686.77,220.0 686.86,210.3 686.97,282.0 687.00,224.3 687.03,209.5 687.08,236.8 687.23,223.1 687.25,222.9 687.40,214.3 687.45,233.5 687.48,223.6 687.51,250.7 687.73,217.5 687.76,227.8 687.79,305.2 687.90,221.8 687.99,242.7 688.01,223.5 688.04,213.4 688.10,247.1 688.24,231.9 688.27,238.9 688.32,212.0 688.49,214.6 688.52,206.1 688.66,235.8 688.74,221.2 688.77,223.8 688.82,208.0 688.94,238.3 688.99,222.0 689.02,228.4 689.07,253.5 689.24,216.5 689.27,226.2 689.30,217.4 689.49,255.8 689.52,229.0 689.63,206.7 689.68,234.2 689.74,216.9 689.76,231.0 689.85,221.2 689.96,243.9 689.98,235.8 690.01,229.3 690.12,216.1 690.23,235.7 690.26,222.8 690.28,220.9 690.37,237.6 690.48,222.3 690.50,230.6 690.64,216.7 690.75,240.5 690.77,228.2 690.91,206.7 690.99,229.9 691.02,219.3 691.05,237.5 691.18,217.6 691.23,223.6 691.26,224.4 691.42,243.5 691.48,217.2 691.50,218.9 691.61,237.2 691.69,201.5 691.75,215.7 691.77,244.3 691.96,253.1 691.99,218.1 692.01,222.9 692.04,229.4 692.12,211.1 692.23,226.8 692.25,230.3 692.36,210.1 692.49,238.8 692.52,226.3 692.57,224.0 692.65,236.3 692.73,224.8 692.76,229.3 692.79,234.8 692.97,217.8 693.00,233.0 693.02,222.1 693.05,210.9 693.21,234.7 693.24,229.5 693.26,219.5 693.34,214.7 693.37,228.9 693.50,220.5 693.53,215.8 693.60,213.9 693.66,237.1 693.74,217.8 693.76,217.3 693.79,213.6 693.92,239.0 694.00,221.9 694.02,248.6 694.13,214.7 694.18,272.8 694.23,236.9 694.26,215.5 694.34,234.3 694.44,209.1 694.49,224.2 694.52,217.9 694.54,216.6 694.67,238.5 694.73,232.0 694.75,230.3 694.88,209.6 694.96,241.1 694.98,233.8 695.01,229.7 695.06,205.8 695.16,235.1 695.24,212.6 695.27,232.4 695.42,216.0 695.47,252.0 695.50,227.3 695.52,218.9 695.60,230.2 695.68,207.9 695.73,226.3 695.76,255.0 695.88,208.1 695.99,217.9 696.01,209.8 696.21,251.5 696.24,245.9 696.27,216.5 696.44,244.9 696.49,234.3 696.52,240.3 696.62,205.6 696.75,213.3 696.77,221.9 696.85,203.2 696.97,213.3 697.00,224.6 697.08,217.5 697.23,265.4 697.25,237.4 697.30,216.4 697.33,275.0 697.48,221.2 697.50,213.9 697.55,246.2 697.73,233.4 697.75,218.5 697.83,210.4 697.98,239.7 698.00,219.9 698.13,248.4 698.20,204.1 698.23,212.0 698.25,238.2 698.33,221.9 698.50,246.1 698.52,231.0 698.57,265.3 698.72,205.3 698.75,209.4 698.77,219.2 698.94,246.2 698.99,215.0 699.02,228.9 699.14,241.8 699.24,210.1 699.26,211.9 699.41,262.8 699.48,232.5 699.51,236.7 699.58,212.2 699.68,245.0 699.73,218.7 699.75,237.0 699.78,214.7 699.92,245.6 700.00,238.6 700.02,229.9 700.14,211.4 700.24,235.6 700.26,233.7 700.39,241.2 700.48,217.2 700.51,213.4 700.68,240.5 700.75,221.7 700.77,221.5 700.80,216.8 700.84,263.7 700.99,229.8 701.01,221.5 701.08,218.5 701.11,232.8 701.23,220.4 701.25,249.5 701.32,211.6 701.49,222.1 701.52,241.5 701.56,207.3 701.73,224.2 701.75,212.1 701.87,234.0 701.99,217.3 702.02,214.6 702.13,241.4 702.21,209.8 702.23,213.1 702.25,235.7 702.42,260.8 702.49,212.3 702.51,205.7 702.58,230.8 702.75,217.7 702.77,210.4 702.84,235.3 702.94,205.8 702.98,217.1 703.01,215.9 703.10,207.6 703.15,240.4 703.24,229.1 703.27,241.2 703.34,247.3 703.41,207.4 703.50,229.8 703.52,219.0 703.59,218.4 703.71,236.2 703.73,233.8 703.76,223.5 703.87,236.0 703.96,206.6 703.99,211.2 704.01,237.5 704.08,209.0 704.24,217.4 704.27,209.8 704.38,252.8 704.50,229.0 704.52,238.5 704.68,211.9 704.73,239.8 704.75,214.0 704.82,206.4 704.91,230.3 704.98,218.4 705.00,221.7 705.07,251.9 705.16,211.0 705.23,230.3 705.25,228.3 705.35,213.6 705.46,254.3 705.48,240.6 705.51,227.3 705.67,250.0 705.73,219.6 705.76,218.8 705.85,242.5 705.89,214.7 705.98,217.3 706.01,210.1 706.03,208.9 706.16,233.6 706.23,219.6 706.25,222.9 706.37,242.4 706.46,216.4 706.48,217.6 706.50,227.6 706.52,240.8 706.57,209.7 706.75,214.9 706.77,224.3 706.88,215.0 707.00,240.2 707.02,254.9 707.24,216.7 707.26,209.6 707.40,242.1 707.49,222.5 707.51,242.0 707.73,212.8 707.75,207.8 707.84,243.1 708.00,237.4 708.02,221.9 708.15,215.5 708.20,246.4 708.24,228.9 708.26,225.9 708.28,235.2 708.40,208.3 708.48,216.9 708.51,226.9 708.55,271.9 708.59,209.1 708.75,223.0 708.77,217.3 708.81,244.7 708.90,210.8 708.99,218.1 709.01,215.2 709.10,209.9 709.16,283.5 709.25,217.0 709.27,207.9 709.42,250.7 709.49,223.9 709.51,239.1 709.73,208.5 709.75,214.7 709.77,235.2 709.79,248.4 709.90,209.4 709.99,213.1 710.01,211.9 710.10,205.7 710.25,234.0 710.27,243.6 710.46,212.2 710.48,223.8 710.50,219.8 710.65,210.0 710.74,241.7 710.76,232.3 710.78,246.7 710.95,215.2 711.00,215.3 711.02,219.8 711.04,260.4 711.12,213.5 711.23,215.0 711.25,212.2 711.32,226.3 711.49,216.9 711.51,214.6 711.59,224.4 711.66,204.9 711.74,220.9 711.76,221.4 711.85,208.4 711.99,231.3 712.02,238.8 712.20,211.4 712.25,259.5 712.27,231.7 712.35,235.4 712.48,221.7 712.50,230.0 712.52,212.0 712.56,257.9 712.73,224.2 712.75,216.1 712.85,242.3 712.98,217.2 713.00,280.0 713.10,206.8 713.23,214.9 713.25,217.1 713.37,214.9 713.48,241.2 713.50,229.9 713.52,244.2 713.60,214.1 713.75,230.5 713.77,223.1 713.79,216.7 713.87,257.2 714.00,222.5 714.02,215.8 714.20,238.4 714.24,219.7 714.26,215.7 714.39,248.8 714.49,233.2 714.51,236.4 714.63,214.7 714.71,251.9 714.73,222.8 714.75,217.1 714.82,239.0 714.90,210.9 715.00,223.2 715.02,233.3 715.10,209.3 715.24,217.0 715.26,214.7 715.43,246.6 715.49,222.4 715.51,219.8 715.65,209.1 715.73,236.5 715.75,213.2 715.77,211.6 715.87,211.2 715.89,255.3 715.99,226.7 716.01,258.1 716.21,209.2 716.23,218.5 716.25,233.0 716.41,208.9 716.45,256.5 716.49,218.5 716.51,216.4 716.57,244.3 716.73,228.6 716.75,227.3 716.77,210.0 716.93,251.0 716.99,223.5 717.01,217.6 717.13,217.1 717.17,237.9 717.25,222.7 717.27,218.6 717.45,240.3 717.49,225.6 717.51,218.1 717.53,212.6 717.62,255.1 717.74,223.8 717.76,210.3 717.82,250.6 718.00,210.9 718.02,220.3 718.10,240.6 718.17,212.3 718.23,226.8 718.25,243.4 718.35,209.7 718.49,222.5 718.51,224.1 718.59,212.4 718.66,244.2 718.74,223.4 718.76,224.1 718.88,256.2 718.97,218.5 718.99,221.0 719.01,245.9 719.09,217.5 719.25,231.9 719.27,245.2 719.40,217.4 719.50,226.3 719.52,215.7 719.54,214.0 719.61,243.9 719.75,232.5 719.77,225.2 719.79,235.1 719.82,213.1 720.00,232.5 720.02,232.2 720.11,212.3 720.23,247.9 720.25,246.0 720.27,231.3 720.34,206.7 720.38,239.7 720.49,221.8 720.51,218.0 720.61,249.4 720.72,212.6 720.74,213.3 720.76,220.2 720.80,247.3 720.93,213.9 720.99,225.0 721.01,218.9 721.06,216.7 721.20,246.8 721.23,242.6 721.25,227.2 721.35,211.6 721.50,249.6 721.52,236.2 721.56,251.9 721.67,211.0 721.74,246.7 721.76,222.4 721.86,213.0 721.93,242.6 721.99,224.5 722.01,225.9 722.04,251.0 722.17,217.7 722.25,228.0 722.27,228.1 722.36,217.9 722.45,252.0 722.49,223.6 722.51,224.3 722.53,216.9 722.60,249.5 722.73,219.5 722.75,227.7 722.88,273.4 722.96,213.1 722.99,237.3 723.01,241.6 723.05,222.4 723.23,225.5 723.25,228.5 723.31,218.6 723.42,250.7 723.49,224.0 723.51,234.4 723.68,247.7 723.73,212.0 723.75,226.6 723.77,227.7 723.80,248.4 723.95,220.5 723.99,232.6 724.00,222.5 724.08,208.0 724.22,240.2 724.24,217.1 724.26,218.8 724.32,255.0 724.42,212.3 724.50,219.4 724.52,228.5 724.61,256.2 724.73,211.9 724.75,214.7 724.77,241.3 724.88,210.6 724.99,223.2 725.00,223.7 725.06,264.1 725.10,212.1 725.24,222.5 725.26,220.7 725.33,212.0 725.42,230.5 725.49,222.8 725.51,230.0 725.60,211.0 725.74,235.7 725.76,238.1 725.83,219.3 725.99,228.8 726.01,228.9 726.05,206.5 726.14,267.0 726.24,211.1 726.26,220.2 726.30,235.8 726.39,211.8 726.49,218.1 726.51,217.7 726.63,250.4 726.69,216.4 726.74,226.0 726.76,216.4 726.86,209.0 726.97,231.2 726.99,222.2 727.00,247.5 727.02,260.0 727.23,218.2 727.25,211.3 727.46,248.0 727.50,220.2 727.52,218.2 727.57,247.9 727.67,216.3 727.74,219.4 727.76,222.0 727.83,211.5 727.87,233.9 727.99,216.8 728.00,215.1 728.06,239.0 728.18,214.5 728.25,222.2 728.27,230.7 728.41,240.6 728.46,209.9 728.49,228.6 728.51,236.9 728.56,213.9 728.68,245.9 728.73,230.1 728.75,236.4 728.79,213.6 728.99,246.2 729.01,223.6 729.17,205.4 729.20,230.0 729.23,221.9 729.25,256.1 729.29,209.6 729.49,226.9 729.51,229.1 729.56,211.9 729.73,250.4 729.75,248.0 729.77,222.3 729.87,244.0 729.90,213.8 729.99,224.4 730.00,250.5 730.14,215.5 730.24,252.0 730.26,230.2 730.29,217.2 730.43,250.6 730.50,223.2 730.51,224.6 730.70,219.8 730.75,259.3 730.77,225.4 730.83,214.1 730.97,264.4 730.99,230.0 731.00,223.2 731.12,208.0 731.17,253.8 731.24,235.2 731.25,219.9 731.46,237.7 731.49,210.4 731.51,220.3 731.61,215.4 731.72,244.3 731.74,232.2 731.76,227.2 731.87,246.6 731.99,208.1 732.01,212.8 732.02,243.0 732.24,236.0 732.26,227.1 732.29,217.3 732.49,246.5 732.50,242.6 732.62,210.3 732.73,233.0 732.75,255.3 733.00,209.2 733.01,224.9 733.20,255.0 733.23,209.5 733.24,228.9 733.26,237.4 733.41,250.9 733.46,210.2 733.49,235.1 733.51,217.0 733.65,254.6 733.73,218.2 733.75,217.6 733.93,207.1 733.96,246.2 733.99,226.3 734.01,222.7 734.21,211.5 734.24,256.5 734.25,225.7 734.35,211.6 734.46,238.1 734.50,225.0 734.51,217.9 734.55,248.3 734.64,215.2 734.74,242.8 734.75,237.4 734.80,248.9 734.87,209.2 735.00,240.8 735.01,228.7 735.04,215.7 735.16,244.7 735.24,232.1 735.25,218.8 735.30,211.8 735.49,237.8 735.51,230.4 735.64,245.8 735.71,213.9 735.75,238.7 735.76,233.8 735.79,209.3 735.89,264.5 735.98,226.2 736.00,250.3 736.14,214.5 736.22,271.9 736.24,238.2 736.25,232.6 736.27,248.6 736.38,209.6 736.49,220.3 736.51,220.6 736.55,234.0 736.57,213.5 736.74,232.8 736.76,224.1 736.77,244.1 736.99,211.3 737.01,213.6 737.18,241.9 737.24,228.7 737.26,224.0 737.28,255.2 737.31,211.8 737.49,219.2 737.51,216.4 737.53,209.7 737.70,242.6 737.74,226.3 737.76,246.5 737.84,211.9 737.90,255.7 737.99,216.1 738.01,233.1 738.05,245.0 738.24,214.8 738.25,226.3 738.28,241.0 738.45,214.2 738.49,216.5 738.50,216.9 738.59,207.8 738.67,257.6 738.75,213.9 738.76,222.4 738.79,250.7 738.82,207.2 738.99,250.0 739.01,243.2 739.10,213.7 739.19,249.8 739.24,229.3 739.25,237.2 739.30,209.9 739.46,275.6 739.50,216.4 739.51,211.4 739.56,244.7 739.74,228.3 739.75,228.0 739.84,244.6 739.94,208.4 740.00,225.9 740.01,220.8 740.09,240.1 740.16,214.9 740.24,232.3 740.25,233.2 740.36,214.4 740.42,233.5 740.49,227.8 740.51,231.1 740.63,213.2 740.72,250.0 740.75,224.5 740.76,219.8 740.97,255.6 740.99,222.8 741.00,225.0 741.12,214.1 741.17,255.6 741.24,214.3 741.26,219.0 741.32,212.2 741.35,266.2 741.49,220.6 741.51,224.0 741.55,209.4 741.60,286.0 741.75,232.3 741.76,244.5 741.91,214.6 741.95,256.5 742.00,233.9 742.01,233.0 742.07,210.6 742.10,262.5 742.25,225.1 742.26,215.9 742.28,238.9 742.44,206.6 742.50,234.4 742.51,233.7 742.65,243.4 742.75,210.1 742.76,226.7 742.89,242.5 742.98,213.2 743.00,222.4 743.01,225.6 743.03,215.1 743.10,251.4 743.24,230.2 743.26,220.9 743.36,209.0 743.39,243.7 743.49,217.5 743.51,214.0 743.61,209.1 743.71,246.3 743.74,219.9 743.75,210.1 743.95,205.8 743.98,248.2 744.00,242.2 744.01,258.9 744.20,212.5 744.24,223.3 744.26,225.6 744.41,218.2 744.43,250.2 744.49,241.5 744.50,227.2 744.54,212.0 744.57,260.3 744.74,239.4 744.76,259.7 744.94,213.0 744.99,226.5 745.00,219.8 745.01,215.7 745.21,270.9 745.24,237.4 745.26,218.9 745.30,213.4 745.43,254.6 745.50,216.4 745.51,222.3 745.53,215.9 745.57,236.4 745.74,219.3 745.75,231.1 745.82,212.4 745.98,232.6 745.99,232.2 746.01,218.0 746.09,240.6 746.15,210.4 746.25,232.0 746.26,232.5 746.29,264.6 746.48,209.0 746.50,209.8 746.51,220.4 746.65,274.9 746.69,209.8 746.75,223.8 746.76,240.0 746.90,243.6 746.93,213.6 747.00,221.7 747.01,238.3 747.11,270.5 747.25,213.3 747.26,223.7 747.35,212.0 747.47,260.4 747.50,215.4 747.51,207.4 747.73,258.1 747.75,227.1 747.76,218.0 747.78,258.3 747.98,206.6 748.00,223.8 748.01,236.1 748.08,272.4 748.17,207.4 748.24,224.4 748.26,225.0 748.39,213.2 748.46,236.8 748.49,216.7 748.50,240.1 748.60,284.7 748.63,210.4 748.75,249.3 748.76,235.1 748.79,248.0 748.95,217.1 748.99,236.6 749.01,223.7 749.13,215.0 749.22,247.7 749.24,239.7 749.25,267.7 749.28,210.7 749.49,221.9 749.51,215.8 749.64,211.8 749.71,261.8 749.74,232.8 749.75,238.2 749.78,212.4 749.99,221.5 750.01,230.7 750.05,213.5 750.14,262.0 750.25,222.1 750.26,219.1 750.35,212.5 750.38,243.5 750.49,217.6 750.50,242.6 750.52,266.1 750.57,207.4 750.74,215.0 750.76,213.1 750.78,245.3 750.90,210.5 750.99,224.8 751.01,251.6 751.17,214.9 751.25,231.1 751.26,223.4 751.27,216.8 751.31,261.1 751.50,232.7 751.51,214.4 751.54,238.8 751.67,206.1 751.75,217.7 751.76,225.7 751.77,259.7 751.81,215.2 752.00,225.2 752.01,242.8 752.09,216.6 752.23,254.9 752.25,248.5 752.26,226.2 752.32,269.0 752.35,209.3 752.49,224.9 752.51,221.7 752.52,211.7 752.61,264.6 752.74,233.2 752.75,239.1 752.81,205.1 752.99,225.5 753.00,231.1 753.19,210.0 753.22,259.6 753.25,222.4 753.26,226.5 753.38,277.2 753.47,209.6 753.49,227.6 753.50,227.7 753.68,235.8 753.72,209.5 753.75,215.1 753.76,219.5 753.83,261.3 753.85,208.6 753.99,211.1 754.00,223.4 754.18,238.7 754.23,216.4 754.25,223.3 754.26,229.0 754.38,212.8 754.40,244.1 754.49,231.8 754.50,223.3 754.66,207.7 754.74,239.8 754.76,239.4 754.91,248.8 755.00,216.6 755.01,216.3 755.07,243.9 755.14,212.2 755.24,222.4 755.25,218.3 755.29,240.9 755.41,214.2 755.49,216.5 755.50,218.3 755.54,211.5 755.70,252.2 755.74,232.4 755.75,245.7 755.78,256.7 755.88,206.5 755.99,227.7 756.00,214.7 756.02,211.2 756.19,246.0 756.24,220.0 756.25,213.2 756.34,235.9 756.39,209.7 756.49,230.2 756.50,222.8 756.54,214.0 756.64,253.7 756.74,236.3 756.75,257.1 756.92,205.5 757.00,246.3 757.01,223.4 757.05,249.1 757.22,210.4 757.24,228.0 757.26,220.6 757.27,212.3 757.43,263.1 757.49,215.4 757.50,227.2 757.53,265.4 757.58,209.9 757.75,228.3 757.76,233.1 757.85,216.6 757.87,253.3 757.99,228.7 758.00,234.6 758.04,252.3 758.25,207.7 758.26,212.4 758.33,238.1 758.42,207.7 758.49,208.3 758.50,214.9 758.72,251.4 758.75,222.3 758.76,218.5 758.89,208.8 758.95,245.3 759.00,229.3 759.01,233.2 759.04,214.1 759.16,265.5 759.24,232.3 759.25,218.5 759.26,208.5 759.34,282.1 759.49,226.5 759.51,213.6 759.59,288.5 759.74,219.2 759.76,227.7 759.88,212.6 759.91,264.8 760.00,235.8 760.01,240.1 760.07,208.4 760.17,245.0 760.25,225.0 760.26,228.8 760.34,208.5 760.49,253.6 760.51,222.2 760.58,215.0 760.60,267.0 760.74,223.5 760.75,228.6 760.85,256.3 760.94,216.6 760.99,236.0 761.00,236.5 761.11,216.1 761.20,248.5 761.25,248.5 761.26,258.7 761.40,214.1 761.50,221.3 761.51,216.2 761.69,294.5 761.74,232.7 761.75,250.5 761.79,264.1 761.90,223.9 762.00,254.9 762.01,257.0 762.06,222.3 762.24,234.9 762.25,224.6 762.39,211.4 762.45,266.7 762.50,247.6 762.51,232.2 762.52,248.8 762.66,220.1 762.74,227.9 762.75,238.5 762.76,218.1 762.90,247.0 762.99,235.3 763.00,224.8 763.09,214.3 763.11,260.6 763.25,229.5 763.26,249.1 763.37,218.6 763.41,266.7 763.50,232.9 763.51,222.9 763.60,250.7 763.69,218.9 763.75,236.6 763.76,227.2 763.78,251.0 763.87,219.9 764.00,249.4 764.01,236.5 764.05,221.3 764.15,275.7 764.25,252.2 764.26,266.9 764.43,212.2 764.50,225.4 764.51,220.5 764.52,212.6 764.63,247.7 764.75,234.4 764.76,230.9 764.92,215.4 764.94,262.2 764.99,233.5 765.01,222.4 765.04,261.4 765.07,213.5 765.24,231.5 765.25,230.6 765.31,216.5 765.43,260.1 765.50,221.9 765.51,225.2 765.58,251.4 765.64,216.6 765.74,242.3 765.75,246.7 765.83,221.6 765.99,254.2 766.00,233.7 766.01,222.3 766.07,253.6 766.09,216.6 766.24,230.0 766.25,231.0 766.31,220.1 766.50,261.9 766.51,257.6 766.63,216.0 766.73,258.5 766.74,257.7 766.75,241.6 766.76,256.6 766.97,214.1 766.99,235.4 767.00,221.8 767.18,263.1 767.21,215.7 767.24,229.7 767.26,224.8 767.39,214.5 767.48,248.2 767.50,241.0 767.51,229.8 767.64,215.6 767.75,269.9 767.76,250.6 767.88,216.4 767.95,250.8 768.00,232.9 768.01,237.9 768.10,222.9 768.13,266.3 768.24,238.9 768.26,241.6 768.30,214.7 768.47,271.5 768.49,269.3 768.50,238.0 768.56,269.2 768.58,223.4 768.74,232.8 768.75,250.8 768.84,256.0 768.94,211.0 769.00,225.1 769.01,238.8 769.19,248.4 769.20,216.6 769.24,234.5 769.25,242.5 769.27,253.9 769.46,216.8 769.50,232.2 769.51,240.0 769.56,248.6 769.72,216.0 769.74,229.0 769.75,219.5 769.92,217.0 770.00,297.0 770.01,238.0 770.03,218.5 770.23,269.7 770.24,243.8 770.25,225.2 770.27,216.8 770.37,272.7 770.49,228.8 770.51,244.1 770.63,217.0 770.65,254.5 770.75,248.4 770.76,219.3 770.85,218.2 770.88,258.5 771.00,252.7 771.01,225.5 771.10,216.5 771.20,244.5 771.25,227.4 771.26,231.4 771.30,240.5 771.45,213.7 771.50,225.7 771.51,230.7 771.68,260.7 771.70,215.6 771.75,246.4 771.76,248.5 771.79,221.6 772.00,228.7 772.01,220.8 772.08,262.4 772.24,217.7 772.25,220.7 772.40,268.1 772.49,244.3 772.50,231.9 772.61,218.9 772.74,259.3 772.75,237.0 772.76,236.4 772.82,219.8 772.95,249.1 772.99,244.2 773.00,230.3 773.05,252.3 773.13,211.7 773.25,237.1 773.26,225.9 773.35,257.8 773.47,219.1 773.49,224.0 773.50,221.9 773.55,218.0 773.58,253.1 773.75,238.6 773.76,230.1 773.91,223.7 774.00,255.4 774.01,231.3 774.07,254.5 774.17,218.9 774.24,242.5 774.25,238.3 774.27,253.9 774.45,217.1 774.49,233.3 774.50,223.4 774.51,213.3 774.54,264.0 774.74,226.9 774.75,244.1 774.95,269.0 774.97,215.7 774.99,233.8 775.00,251.7 775.20,210.8 775.24,257.7 775.25,217.3 775.26,210.6 775.40,263.1 775.50,223.2 775.51,225.6 775.55,221.8 775.73,271.3 775.75,225.1 775.76,229.9 775.87,221.3 775.88,259.1 775.99,229.9 776.00,228.5 776.05,254.2 776.11,215.2 776.25,229.5 776.26,231.9 776.30,268.1 776.42,216.8 776.49,233.0 776.50,237.2 776.55,254.2 776.69,219.3 776.75,225.3 776.76,225.5 776.87,216.6 776.90,247.6 776.99,226.9 777.00,250.1 777.10,214.5 777.13,263.1 777.25,228.1 777.26,218.5 777.36,264.2 777.43,217.1 777.50,217.4 777.51,215.9 777.59,254.7 777.75,222.2 777.76,236.6 777.79,258.7 778.00,214.3 778.01,216.9 778.25,243.6 778.26,246.5 778.28,216.8 778.40,278.3 778.50,219.8 778.51,222.8 778.52,215.3 778.62,269.2 778.75,221.7 778.76,230.4 778.79,213.9 778.96,239.8 778.99,220.4 779.00,219.8 779.04,217.2 779.12,253.1 779.24,236.1 779.25,246.1 779.35,270.5 779.46,216.1 779.50,237.0 779.51,248.6 779.67,219.7 779.69,255.6 779.74,226.9 779.75,243.3 779.87,255.2 780.00,211.0 780.01,214.6 780.03,260.8 780.20,212.3 780.24,216.3 780.25,243.7 780.46,213.5 780.48,267.1 780.49,225.3 780.50,222.7 780.52,242.9 780.61,219.4 780.75,234.5 780.75,240.0 780.76,275.2 780.80,216.3 781.00,229.8 781.01,242.7 781.02,273.1 781.13,217.1 781.25,223.6 781.26,246.5 781.39,214.7 781.40,254.1 781.50,247.6 781.51,251.8 781.55,219.6 781.64,254.3 781.75,223.1 781.75,215.2 781.81,211.1 781.86,253.8 781.99,249.8 782.00,238.1 782.14,210.0 782.18,262.2 782.24,223.0 782.25,231.3 782.31,272.2 782.35,212.6 782.50,231.5 782.51,259.3 782.73,218.3 782.74,224.8 782.75,239.9 782.88,269.9 782.97,216.7 783.00,233.9 783.01,237.9 783.14,259.8 783.23,210.9 783.24,222.2 783.25,231.4 783.44,262.3 783.48,213.6 783.49,227.2 783.50,243.1 783.67,221.1 783.67,253.4 783.75,232.1 783.76,250.1 783.99,212.2 784.00,220.5 784.01,226.1 784.11,250.7 784.12,215.7 784.25,239.8 784.26,247.0 784.45,215.4 784.48,260.8 784.50,227.8 784.51,223.6 784.60,252.5 784.66,218.6 784.75,232.6 784.76,237.2 784.83,214.4 784.95,250.9 785.00,227.5 785.00,241.9 785.01,261.6 785.22,220.1 785.24,239.7 785.25,244.2 785.36,212.5 785.50,219.7 785.51,220.4 785.53,213.9 785.73,250.9 785.75,236.1 785.75,230.0 785.83,215.5 785.90,243.3 786.00,216.1 786.01,220.4 786.10,215.6 786.19,262.4 786.24,219.3 786.25,221.9 786.31,277.5 786.46,214.2 786.50,228.2 786.51,214.6 786.54,259.8 786.57,213.4 786.75,228.8 786.76,222.8 786.77,217.3 786.91,255.7 786.99,223.6 787.00,225.7 787.01,214.6 787.05,254.6 787.24,242.2 787.25,250.6 787.26,262.8 787.32,209.2 787.49,235.9 787.50,231.1 787.56,213.2 787.59,253.2 787.75,222.4 787.76,222.7 787.78,216.4 787.97,261.8 788.00,225.1 788.01,232.1 788.10,249.9 788.19,215.7 788.24,236.0 788.25,247.7 788.39,258.6 788.47,208.4 788.49,253.2 788.50,249.7 788.70,213.4 788.75,273.6 788.75,224.1 788.86,245.4 788.97,214.8 789.00,230.4 789.01,219.7 789.08,254.4 789.18,215.8 789.24,228.3 789.25,246.7 789.28,262.7 789.47,217.2 789.50,219.9 789.50,227.2 789.61,213.6 789.74,251.4 789.75,229.5 789.76,232.7 789.83,255.4 789.90,213.6 790.00,229.1 790.01,216.0 790.14,259.7 790.25,240.3 790.26,224.5 790.32,254.1 790.41,209.0 790.50,217.1 790.51,218.8 790.58,250.2 790.74,213.4 790.75,223.8 790.75,229.9 790.80,249.2 790.88,213.2 790.99,214.5 791.00,220.4 791.04,212.8 791.19,268.0 791.25,228.7 791.26,220.4 791.27,264.4 791.44,217.2 791.50,235.4 791.50,255.4 791.62,218.9 791.70,257.0 791.75,222.1 791.76,232.1 791.77,216.4 791.86,246.4 791.99,231.2 792.00,218.5 792.07,206.2 792.19,253.1 792.25,224.5 792.25,231.6 792.28,267.2 792.37,216.6 792.50,236.1 792.51,232.2 792.51,255.0 792.71,212.4 792.75,227.0 792.76,235.4 792.77,284.9 792.93,213.4 793.00,272.5 793.01,224.6 793.02,247.1 793.22,207.7 793.25,226.5 793.26,219.8 793.26,216.2 793.38,264.4 793.50,223.9 793.50,224.7 793.62,214.4 793.64,245.0 793.74,219.1 793.75,232.7 793.82,217.3 794.00,289.0 794.01,215.5 794.04,251.2 794.11,213.9 794.25,242.9 794.25,222.5 794.29,208.6 794.45,268.1 794.50,223.7 794.51,242.5 794.59,209.5 794.60,254.3 794.74,230.3 794.75,223.1 794.78,254.1 794.83,211.2 795.00,224.2 795.00,232.9 795.05,259.0 795.15,209.6 795.25,210.7 795.26,213.8 795.29,212.8 795.43,253.1 795.50,228.9 795.51,219.3 795.71,270.2 795.74,213.2 795.75,221.2 795.76,218.1 795.84,212.6 795.86,260.9 796.00,234.3 796.00,227.6 796.21,212.7 796.23,247.0 796.25,222.0 796.25,223.0 796.26,251.3 796.45,210.2 796.49,219.3 796.50,231.7 796.52,210.1 796.55,256.6 796.75,221.8 796.75,225.5 796.91,212.0 796.97,250.4 796.99,235.0 797.00,228.5 797.02,209.0 797.13,265.5 797.25,233.5 797.25,237.8 797.26,243.9 797.43,210.0 797.50,212.8 797.51,216.2 797.65,248.6 797.74,225.0 797.75,228.4 797.80,265.7 797.87,211.1 797.99,211.5 798.00,214.5 798.05,210.9 798.11,269.9 798.24,224.0 798.25,220.3 798.44,268.7 798.47,214.6 798.49,218.5 798.50,244.1 798.52,210.5 798.58,270.5 798.75,261.8 798.76,221.9 798.76,215.0 798.85,260.1 799.00,218.2 799.00,249.2 799.09,211.4 799.24,228.6 799.25,222.7 799.33,208.7 799.50,243.8 799.50,220.8 799.70,269.4 799.72,210.0 799.74,222.6 799.75,223.2 799.78,207.4 799.93,252.3 800.00,225.4 800.00,237.7 800.19,273.4 800.20,209.2 800.25,225.7 800.25,240.3 800.38,211.9 800.41,264.6 800.50,221.9 800.51,217.1 800.55,207.4 800.60,247.7 800.75,213.8 800.76,218.7 800.92,206.0 801.00,284.7 801.00,227.5 801.17,252.2 801.23,209.9 801.25,215.6 801.25,221.9 801.36,264.3 801.38,208.8 801.49,238.6 801.50,227.5 801.56,209.8 801.72,260.1 801.75,216.9 801.76,244.4 801.91,254.8 801.96,209.0 801.99,232.0 802.00,217.5 802.11,258.0 802.23,206.2 802.25,233.5 802.25,221.8 802.32,246.7 802.46,210.9 802.50,214.8 802.51,212.6 802.57,202.8 802.64,250.1 802.74,230.5 802.75,221.9 802.84,216.2 802.89,251.9 802.99,233.5 803.00,226.8 803.12,251.1 803.20,210.6 803.24,219.4 803.25,212.3 803.37,256.2 803.46,205.1 803.49,242.3 803.50,230.5 803.54,204.5 803.73,248.9 803.75,224.2 803.76,210.2 803.98,251.4 804.00,208.6 804.00,212.7 804.05,267.0 804.21,209.0 804.24,217.0 804.25,211.2 804.41,253.1 804.50,225.6 804.50,216.3 804.62,259.1 804.67,209.5 804.75,221.4 804.76,211.5 804.77,258.8 804.94,207.0 804.99,233.0 805.00,225.3 805.08,250.0 805.15,206.9 805.24,218.7 805.25,215.3 805.40,205.2 805.46,254.5 805.49,216.7 805.50,214.3 805.55,210.0 805.72,236.1 805.74,221.4 805.75,215.7 805.77,266.3 805.83,201.9 805.99,243.2 806.00,296.4 806.08,201.2 806.25,231.4 806.26,207.5 806.33,201.9 806.43,243.4 806.50,234.4 806.50,224.8 806.54,254.7 806.71,203.4 806.75,231.0 806.76,226.9 806.78,204.1 806.85,242.2 806.99,224.3 807.00,230.0 807.06,251.4 807.23,207.7 807.25,227.4 807.25,221.5 807.33,244.3 807.38,208.3 807.50,225.1 807.50,214.2 807.54,248.7 807.64,202.2 807.75,210.2 807.75,214.0 807.78,208.5 807.99,240.8 808.00,211.0 808.00,209.0 808.09,247.1 808.13,203.8 808.25,222.9 808.25,229.5 808.28,204.2 808.45,252.2 808.49,210.9 808.50,212.3 808.70,241.3 808.74,198.5 808.75,201.4 808.76,214.1 808.89,203.3 808.96,243.3 809.00,217.3 809.00,225.9 809.02,239.7 809.14,204.4 809.25,217.4 809.25,221.6 809.26,249.8 809.47,201.6 809.49,234.9 809.50,230.9 809.63,198.8 809.71,258.3 809.74,237.7 809.75,225.8 809.82,240.0 809.94,205.4 810.00,216.3 810.00,226.2 810.03,203.3 810.16,242.2 810.24,215.9 810.25,209.1 810.28,200.7 810.37,255.8 810.49,228.3 810.50,216.5 810.53,203.8 810.61,234.8 810.75,221.1 810.75,223.2 810.89,247.0 810.90,195.7 811.00,229.1 811.00,220.1 811.02,254.0 811.16,194.3 811.25,216.7 811.26,204.6 811.31,200.2 811.38,240.3 811.49,224.0 811.50,217.5 811.56,259.6 811.75,199.4 811.75,194.4 811.82,236.3 812.00,203.9 812.00,209.9 812.11,237.0 812.13,203.5 812.25,219.0 812.25,213.5 812.33,201.0 812.38,235.8 812.50,205.2 812.50,211.9 812.59,239.2 812.62,197.4 812.75,211.6 812.75,212.5 812.85,201.7 812.96,246.7 812.99,209.0 813.00,198.4 813.13,196.9 813.17,245.1 813.25,217.2 813.25,207.0 813.34,192.6 813.45,254.3 813.49,233.7 813.50,235.7 813.72,198.4 813.73,257.2 813.75,198.5 813.75,207.5 813.77,229.8 813.92,193.6 814.00,222.1 814.00,209.8 814.14,192.2 814.24,256.4 814.25,227.3 814.25,209.3 814.33,198.6 814.46,238.7 814.50,205.3 814.50,208.2 814.58,247.5 814.61,191.8 814.75,228.1 814.75,219.4 814.77,245.7 814.95,191.9 815.00,224.7 815.00,213.0 815.06,235.7 815.24,195.7 815.25,209.4 815.26,203.5 815.41,239.5 815.48,195.1 815.50,208.2 815.50,204.7 815.60,193.6 815.69,238.0 815.75,218.2 815.75,236.7 815.78,244.7 815.90,197.9 816.00,205.0 816.01,201.4 816.14,193.0 816.16,241.2 816.24,215.1 816.25,211.3 816.30,265.4 816.45,199.4 816.49,212.4 816.50,215.8 816.67,224.1 816.68,196.0 816.75,207.5 816.76,224.6 816.91,198.3 816.93,247.7 817.00,223.3 817.00,208.1 817.06,254.6 817.17,195.9 817.25,217.3 817.25,232.6 817.37,196.3 817.46,234.5 817.50,208.6 817.51,223.3 817.53,200.8 817.73,237.5 817.75,217.4 817.75,219.8 817.94,232.2 817.97,196.0 818.00,228.0 818.00,209.9 818.02,196.2 818.08,257.6 818.25,201.8 818.25,207.5 818.29,195.1 818.42,253.8 818.50,219.4 818.50,211.0 818.59,199.7 818.62,242.6 818.75,205.7 818.75,204.6 818.77,249.7 818.82,196.3 819.00,229.9 819.00,213.5 819.01,198.5 819.11,245.7 819.24,208.7 819.25,210.8 819.33,252.7 819.36,199.5 819.50,215.3 819.50,211.7 819.60,249.4 819.73,198.7 819.75,217.6 819.76,217.9 819.94,245.1 819.97,199.5 820.00,216.2 820.00,208.8 820.01,207.2" fill="none" stroke="#ffe866" stroke-width="1.5" stroke-linejoin="round" stroke-linecap="round"/><polygon points="370.9,57.7 381.9,57.7 376.4,66.3" fill="#857a30" stroke="#ffe866" stroke-width="1.1" stroke-linejoin="round"/>
<path d="M48.5 316.5h3.5M820.5 316.5h-3.5M48.5 296.5h6.5M820.5 296.5h-6.5M48.5 275.5h3.5M820.5 275.5h-3.5M48.5 255.5h6.5M820.5 255.5h-6.5M48.5 235.5h3.5M820.5 235.5h-3.5M48.5 215.5h6.5M820.5 215.5h-6.5M48.5 194.5h3.5M820.5 194.5h-3.5M48.5 174.5h6.5M820.5 174.5h-6.5M48.5 154.5h3.5M820.5 154.5h-3.5M48.5 134.5h6.5M820.5 134.5h-6.5M48.5 113.5h3.5M820.5 113.5h-3.5M48.5 93.5h6.5M820.5 93.5h-6.5M48.5 73.5h3.5M820.5 73.5h-3.5M48.5 53.5h6.5M820.5 53.5h-6.5M82.5 38.5v3.5M82.5 335.5v-3.5M107.5 38.5v3.5M107.5 335.5v-3.5M125.5 38.5v3.5M125.5 335.5v-3.5M141.5 38.5v3.5M141.5 335.5v-3.5M154.5 38.5v3.5M154.5 335.5v-3.5M165.5 38.5v3.5M165.5 335.5v-3.5M175.5 38.5v3.5M175.5 335.5v-3.5M184.5 38.5v6.5M184.5 335.5v-6.5M242.5 38.5v3.5M242.5 335.5v-3.5M276.5 38.5v3.5M276.5 335.5v-3.5M300.5 38.5v3.5M300.5 335.5v-3.5M319.5 38.5v3.5M319.5 335.5v-3.5M334.5 38.5v3.5M334.5 335.5v-3.5M347.5 38.5v3.5M347.5 335.5v-3.5M359.5 38.5v3.5M359.5 335.5v-3.5M368.5 38.5v3.5M368.5 335.5v-3.5M377.5 38.5v6.5M377.5 335.5v-6.5M436.5 38.5v3.5M436.5 335.5v-3.5M470.5 38.5v3.5M470.5 335.5v-3.5M494.5 38.5v3.5M494.5 335.5v-3.5M513.5 38.5v3.5M513.5 335.5v-3.5M528.5 38.5v3.5M528.5 335.5v-3.5M541.5 38.5v3.5M541.5 335.5v-3.5M552.5 38.5v3.5M552.5 335.5v-3.5M562.5 38.5v3.5M562.5 335.5v-3.5M571.5 38.5v6.5M571.5 335.5v-6.5M629.5 38.5v3.5M629.5 335.5v-3.5M663.5 38.5v3.5M663.5 335.5v-3.5M688.5 38.5v3.5M688.5 335.5v-3.5M706.5 38.5v3.5M706.5 335.5v-3.5M722.5 38.5v3.5M722.5 335.5v-3.5M735.5 38.5v3.5M735.5 335.5v-3.5M746.5 38.5v3.5M746.5 335.5v-3.5M756.5 38.5v3.5M756.5 335.5v-3.5M765.5 38.5v6.5M765.5 335.5v-6.5" stroke="#d6d6d6" stroke-width="1" fill="none" shape-rendering="crispEdges"/>
<rect x="48.5" y="38.5" width="772.0" height="297.0" fill="none" stroke="#d6d6d6" stroke-width="1" shape-rendering="crispEdges"/>
<text x="43.5" y="57.0" text-anchor="end" font-size="11" fill="#d0d0d0">60</text>
<text x="43.5" y="97.0" text-anchor="end" font-size="11" fill="#d0d0d0">40</text>
<text x="43.5" y="138.0" text-anchor="end" font-size="11" fill="#d0d0d0">20</text>
<text x="43.5" y="178.0" text-anchor="end" font-size="11" fill="#d0d0d0">0</text>
<text x="43.5" y="219.0" text-anchor="end" font-size="11" fill="#d0d0d0">-20</text>
<text x="43.5" y="259.0" text-anchor="end" font-size="11" fill="#d0d0d0">-40</text>
<text x="43.5" y="300.0" text-anchor="end" font-size="11" fill="#d0d0d0">-60</text>
<text x="184.2" y="349.6" text-anchor="end" font-size="11" fill="#d0d0d0">10</text>
<text x="184.7" y="346" text-anchor="start" font-size="11" fill="#d0d0d0">-<tspan dx="-0.9">1</tspan></text>
<text x="377.2" y="349.6" text-anchor="end" font-size="11" fill="#d0d0d0">10</text>
<text x="377.7" y="346" text-anchor="start" font-size="11" fill="#d0d0d0">0</text>
<text x="571.2" y="349.6" text-anchor="end" font-size="11" fill="#d0d0d0">10</text>
<text x="571.7" y="346" text-anchor="start" font-size="11" fill="#d0d0d0">1</text>
<text x="765.2" y="349.6" text-anchor="end" font-size="11" fill="#d0d0d0">10</text>
<text x="765.7" y="346" text-anchor="start" font-size="11" fill="#d0d0d0">2</text>
<text x="434.5" y="366.5" text-anchor="middle" font-size="13" fill="#d0d0d0">Frequency (kHz)</text>
<text transform="translate(18,186.5) rotate(-90)" text-anchor="middle" font-size="13" fill="#d0d0d0">Power (dBm)</text>
</svg>
<div id="pk"><span>Peaks</span></div>
<div id="tbl">
<div class="r h" style="top:0px;height:26px"><span class="c1" style="font-size:12px;top:8px">Zero-Order Hold</span><span class="c2" style="font-size:12px;top:8px;transform:scaleX(0.82)">P1</span></div>
<div class="r" style="top:27px;height:21px"><span class="c1" style="transform:scaleX(0.95)">Frequency (Hz)</span><span class="c2">986.6667</span></div>
<div class="r" style="top:49px;height:21px"><span class="c1" style="transform:scaleX(0.974)">Power (dBm)</span><span class="c2" style="transform:scaleX(0.98)">52.5899</span></div>
<div class="v"></div>
</div>
<div id="st">
<span style="left:7px">Ready</span>
<span style="left:78px">ΔT=50.0000 ms</span>
<span style="left:169px">Samples/Update=28800</span>
<span style="left:304px">VBW=235.7851 mHz</span>
<span style="left:422px">RBW=20.0000 Hz</span>
<span style="left:524.7px">Sample Rate=384.0000 kHz</span>
<span style="left:680.7px">Updates=1</span>
<span style="left:745.4px">T=0.0761</span>
<svg style="position:absolute;left:800px;top:1px" width="41" height="23" viewBox="800 477 41 23">
<circle cx="812.4" cy="483.4" r="1.5" fill="#555"/><circle cx="812.4" cy="489.4" r="1.5" fill="#555"/><circle cx="812.4" cy="495.4" r="1.5" fill="#555"/>
<polygon points="825,485 836.8,485 830.9,492" fill="#8c8c8c"/>
<rect x="825" y="492.1" width="12" height="1.8" fill="#8c8c8c"/>
</svg>
</div>
</body></html>
